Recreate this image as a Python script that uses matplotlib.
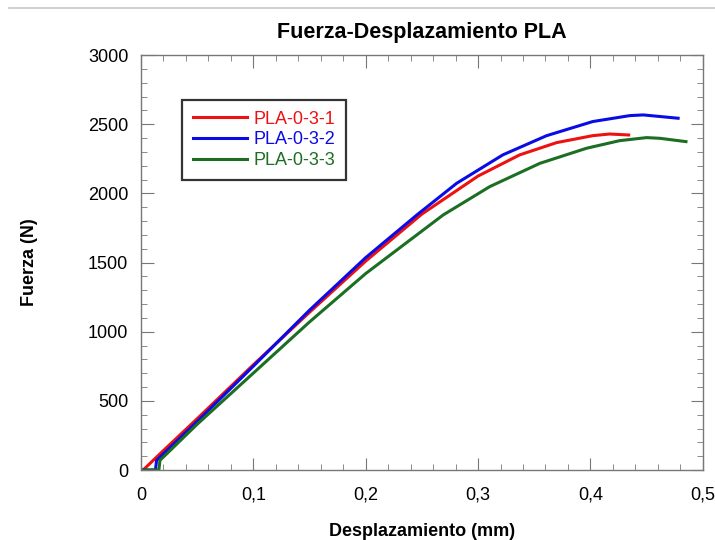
import matplotlib
matplotlib.use("Agg")
import matplotlib.pyplot as plt
from matplotlib.ticker import MultipleLocator
from matplotlib.lines import Line2D

# datos
x_pla1 = [0.002, 0.02, 0.05, 0.1, 0.15, 0.2, 0.25, 0.3, 0.337, 0.37, 0.402, 0.417, 0.434]
f_pla1 = [0, 140, 370, 760, 1140, 1510, 1850, 2125, 2278, 2367, 2417, 2429, 2422]

x_pla2 = [0, 0.013, 0.014, 0.05, 0.1, 0.15, 0.2, 0.2456, 0.281, 0.322, 0.361, 0.402, 0.435, 0.447, 0.478]
f_pla2 = [0, 0, 70, 350, 750, 1155, 1535, 1844, 2073, 2278, 2417, 2519, 2562, 2567, 2543]

x_pla3 = [0, 0.016, 0.017, 0.05, 0.1, 0.15, 0.2, 0.269, 0.3105, 0.355, 0.3965, 0.426, 0.45, 0.4617, 0.485]
f_pla3 = [0, 0, 70, 330, 700, 1070, 1420, 1844, 2049, 2217, 2326, 2381, 2403, 2398, 2374]

labels = ["PLA-0-3-1", "PLA-0-3-2", "PLA-0-3-3"]
colors = ["#ee1111", "#0b0be6", "#1c6e23"]

xticks = [0, 0.1, 0.2, 0.3, 0.4, 0.5]
xticklabels = ["0", "0,1", "0,2", "0,3", "0,4", "0,5"]
yticks = [0, 500, 1000, 1500, 2000, 2500, 3000]

plt.rcParams["font.family"] = ["Liberation Sans", "DejaVu Sans"]

fig = plt.figure(figsize=(7.15, 5.4), dpi=100)
ax = fig.add_axes([0.197, 0.1296, 0.786, 0.7685])

for xs, fs, lab, col in zip([x_pla1, x_pla2, x_pla3], [f_pla1, f_pla2, f_pla3], labels, colors):
    ax.plot(xs, fs, color=col, lw=2.2, label=lab)

ax.set_xlim(0, 0.5)
ax.set_ylim(0, 3000)
ax.set_xticks(xticks)
ax.set_xticklabels(xticklabels)
ax.set_yticks(yticks)
ax.xaxis.set_minor_locator(MultipleLocator(0.02))
ax.yaxis.set_minor_locator(MultipleLocator(100))
ax.tick_params(which="both", direction="in", top=True, right=True, color="#777777", labelsize=13)
ax.tick_params(axis="x", pad=12)
ax.tick_params(axis="y", pad=9)
ax.tick_params(which="major", length=9)
ax.tick_params(which="minor", length=4)
for s in ax.spines.values():
    s.set_color("#777777")
    s.set_linewidth(1.0)

ax.set_title("Fuerza-Desplazamiento PLA", fontsize=15.5, fontweight="bold", pad=12)
ax.set_xlabel("Desplazamiento (mm)", fontsize=13, fontweight="bold", labelpad=14)
ax.set_ylabel("Fuerza (N)", fontsize=13, fontweight="bold", labelpad=36)

leg = ax.legend(loc="upper left", bbox_to_anchor=(0.073, 0.892), borderaxespad=0,
                fancybox=False, edgecolor="black", fontsize=13, labelcolor="linecolor",
                handlelength=3.0, handletextpad=0.35, borderpad=0.6, labelspacing=0.2)
leg.get_frame().set_linewidth(1.6)
for h in leg.get_lines():
    h.set_linewidth(2.2)

fig.add_artist(Line2D([0.012, 1.0], [0.985, 0.985], color="#c8c8c8", lw=1.2))

fig.savefig("out.png", dpi=100)
plt.close(fig)
